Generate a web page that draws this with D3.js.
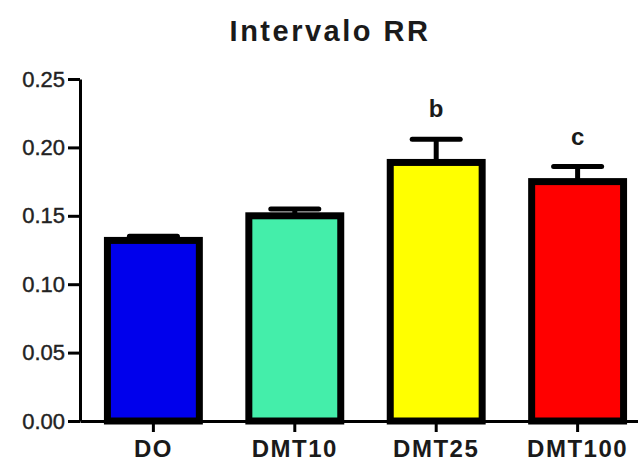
<!DOCTYPE html>
<html>
<head>
<meta charset="utf-8">
<script src="https://cdn.jsdelivr.net/npm/d3@7/dist/d3.min.js"></script>
<style>
  body { margin: 0; background: #fff; }
  svg { display: block; }
</style>
</head>
<body>
<div id="chart"></div>
<script>
var w = 638;
var h = 463;

// data (mean + SEM)
var groups = ["DO", "DMT10", "DMT25", "DMT100"];
var means = [0.132, 0.150, 0.189, 0.175];
var sems = [0.003, 0.005, 0.017, 0.011];
var letters = ["", "", "b", "c"];
var colors = ["#0000ec", "#44eeaa", "#ffff00", "#ff0000"];
var yTicks = [0, 0.05, 0.10, 0.15, 0.20, 0.25];

var data = groups.map(function(g, i) {
  return {name: g, mean: means[i], sem: sems[i], letter: letters[i], color: colors[i]};
});

var svg = d3.select("#chart")
  .append("svg")
  .attr("width", w)
  .attr("height", h);

var x = d3.scaleBand()
  .domain(groups)
  .range([80, 651])
  .paddingInner(0.35)
  .paddingOuter(0.194);

var y = d3.scaleLinear()
  .domain([0, 0.25])
  .range([421, 79]);

// title
svg.append("text")
  .attr("x", 330)
  .attr("y", 41)
  .attr("text-anchor", "middle")
  .attr("font-family", "Liberation Sans, Arial, sans-serif")
  .attr("font-weight", "bold")
  .attr("font-size", "29px")
  .attr("letter-spacing", "2.5px")
  .attr("fill", "#1a1a1a")
  .text("Intervalo RR");

// error bars (drawn first, bars cover the lower part)
var err = svg.selectAll("g.err")
  .data(data)
  .enter()
  .append("g")
  .attr("class", "err");

err.append("line")
  .attr("x1", function(d) { return x(d.name) + x.bandwidth() / 2; })
  .attr("x2", function(d) { return x(d.name) + x.bandwidth() / 2; })
  .attr("y1", function(d) { return y(d.mean); })
  .attr("y2", function(d) { return y(d.mean + d.sem); })
  .attr("stroke", "#000")
  .attr("stroke-width", 5);

err.append("line")
  .attr("x1", function(d) { return x(d.name) + x.bandwidth() / 2 - 24; })
  .attr("x2", function(d) { return x(d.name) + x.bandwidth() / 2 + 24; })
  .attr("y1", function(d) { return y(d.mean + d.sem); })
  .attr("y2", function(d) { return y(d.mean + d.sem); })
  .attr("stroke", "#000")
  .attr("stroke-width", 5)
  .attr("stroke-linecap", "round");

// bars
svg.selectAll("rect.bar")
  .data(data)
  .enter()
  .append("rect")
  .attr("class", "bar")
  .attr("x", function(d) { return x(d.name); })
  .attr("y", function(d) { return y(d.mean); })
  .attr("width", x.bandwidth())
  .attr("height", function(d) { return y(0) - y(d.mean); })
  .attr("fill", function(d) { return d.color; })
  .attr("stroke", "#000")
  .attr("stroke-width", 7);

// significance letters
svg.selectAll("text.sig")
  .data(data)
  .enter()
  .append("text")
  .attr("class", "sig")
  .attr("x", function(d) { return x(d.name) + x.bandwidth() / 2; })
  .attr("y", function(d) { return y(d.mean + d.sem) - 22; })
  .attr("text-anchor", "middle")
  .attr("font-family", "Liberation Sans, Arial, sans-serif")
  .attr("font-weight", "bold")
  .attr("font-size", "24px")
  .attr("fill", "#1a1a1a")
  .text(function(d) { return d.letter; });

// y axis
var yAxis = svg.append("g")
  .attr("transform", "translate(80,0)")
  .call(d3.axisLeft(y).tickValues(yTicks).tickSize(12).tickSizeOuter(0).tickPadding(3)
    .tickFormat(d3.format(".2f")));

yAxis.select(".domain").attr("stroke", "#000").attr("stroke-width", 3);
yAxis.selectAll(".tick line").attr("stroke", "#000").attr("stroke-width", 3);
yAxis.selectAll(".tick text")
  .attr("font-family", "Liberation Sans, Arial, sans-serif")
  .attr("font-size", "22px")
  .attr("stroke", "#222")
  .attr("stroke-width", 0.4)
  .attr("fill", "#222");

// x axis
var xAxis = svg.append("g")
  .attr("transform", "translate(0,421)")
  .call(d3.axisBottom(x).tickSize(11).tickSizeOuter(0).tickPadding(8));

xAxis.select(".domain").attr("stroke", "#000").attr("stroke-width", 3);
xAxis.selectAll(".tick line").attr("stroke", "#000").attr("stroke-width", 3);
xAxis.selectAll(".tick text")
  .attr("font-family", "Liberation Sans, Arial, sans-serif")
  .attr("font-weight", "bold")
  .attr("font-size", "24px")
  .attr("letter-spacing", "1.5px")
  .attr("fill", "#1a1a1a");
</script>
</body>
</html>
